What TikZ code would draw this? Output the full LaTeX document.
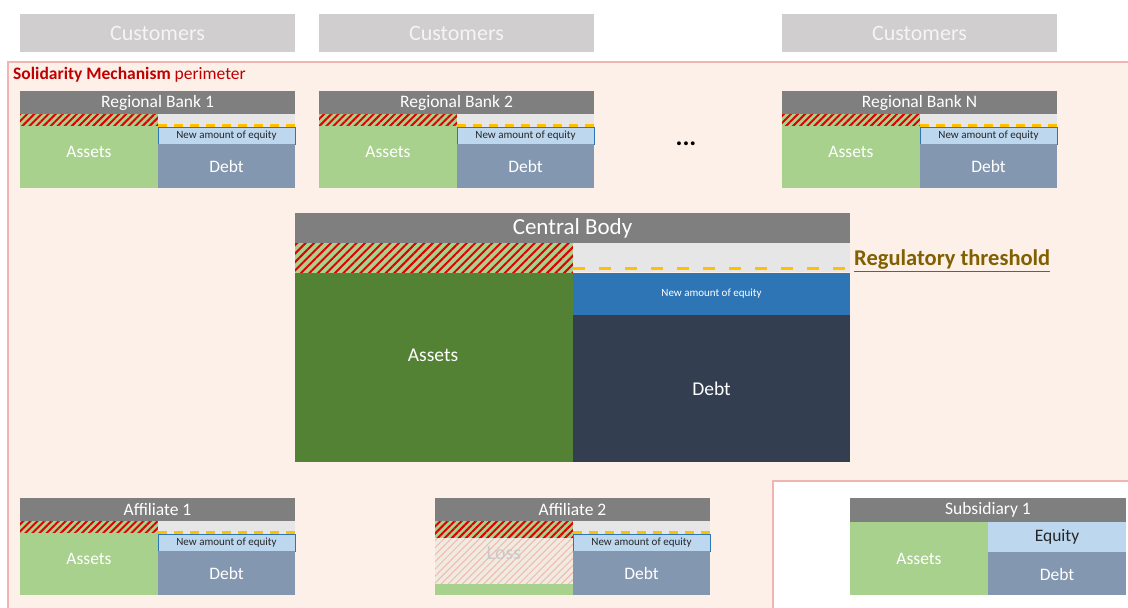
\documentclass[tikz,border=0pt]{standalone}
\usepackage{fontspec}
\setmainfont{Carlito}
\usetikzlibrary{patterns.meta}

\definecolor{custgray}{HTML}{D0CECE}
\definecolor{perimfill}{HTML}{FDF0E9}
\definecolor{perimline}{HTML}{F2B3B3}
\definecolor{hdrgray}{HTML}{7F7F7F}
\definecolor{lightgreen}{HTML}{A9D18E}
\definecolor{darkgreen}{HTML}{548235}
\definecolor{paleblue}{HTML}{BDD7EE}
\definecolor{midblue}{HTML}{2E75B6}
\definecolor{slate}{HTML}{8497B0}
\definecolor{navy}{HTML}{333F50}
\definecolor{bufgray}{HTML}{E7E6E6}
\definecolor{amber}{HTML}{FFC000}
\definecolor{hatchred}{HTML}{E00000}
\definecolor{threshgold}{HTML}{806000}
\definecolor{titlered}{HTML}{C00000}
\definecolor{lossbg}{HTML}{EFEBE0}
\definecolor{lossline}{HTML}{F4B8AE}
\definecolor{losstext}{HTML}{C9C9C9}

\tikzset{
  fs/.style={font=\fontsize{#1}{#1}\selectfont},
  label/.style={inner sep=0pt, outer sep=0pt, text=white},
  darklabel/.style={inner sep=0pt, outer sep=0pt, text=black!85},
  hatch/.style={fill=lightgreen, postaction={pattern={Lines[angle=45,distance=#1pt,line width=2pt]}, pattern color=hatchred}},
  threshold/.style={draw=amber, line width=3pt, dash pattern=#1},
  eqbox/.style={fill=paleblue, draw=midblue, line width=0.8pt},
}

% header bar and liability side of a small balance sheet
% #1 x, #2 y, #3 name, #4 title
\newcommand\bankframe[4]{%
  \begin{scope}[shift={(#1,#2)}]
    \fill[hdrgray] (0,0) rectangle (275,23);
    \node[label, fs=17.5] (#3-title) at (137.5,11.5) {#4};
    \fill[bufgray] (138,23) rectangle (275,36);
    \coordinate (#3-ta) at (138,34);
    \coordinate (#3-tb) at (275,34);
    \draw[threshold={on 9pt off 7pt}] (#3-ta) -- (#3-tb);
    \filldraw[eqbox] (138,36) rectangle (275,53);
    \node[darklabel, fs=11] (#3-eq) at (206.5,44.5) {New amount of equity};
    \fill[slate] (138,53) rectangle (275,97);
    \node[label, fs=17.5] (#3-debt) at (206.5,75) {Debt};
  \end{scope}}

% asset side: hatched loss strip above the remaining assets
% #1 x, #2 y, #3 name
\newcommand\bankassets[3]{%
  \begin{scope}[shift={(#1,#2)}]
    \fill[hatch=5] (0,23) rectangle (138,35);
    \fill[lightgreen] (0,35) rectangle (138,97);
    \node[label, fs=17.5] (#3-assets) at (69,61) {Assets};
  \end{scope}}

\begin{document}
\begin{tikzpicture}[x=1pt, y=-1pt]
  \useasboundingbox (0,0) rectangle (1128,608);

  % customers
  \foreach \cx/\cn in {20/c1, 319/c2, 782/c3} {
    \fill[custgray] (\cx,14) rectangle ++(275,38);
    \node[label, fs=22, text=white!96!black] (\cn) at (\cx+137.5,33) {Customers};
  }

  % perimeter of the solidarity mechanism
  \fill[perimfill] (8,62) rectangle (1128,608);
  \draw[perimline, line width=1.2pt] (8,608) -- (8,62) -- (1128,62);
  \node[inner sep=0pt, anchor=west, fs=17.5, text=titlered] (perim) at (13,75)
    {\textbf{Solidarity Mechanism} perimeter};

  % regional banks
  \bankassets{20}{91}{rb1}
  \bankframe{20}{91}{rb1}{Regional Bank 1}
  \bankassets{319}{91}{rb2}
  \bankframe{319}{91}{rb2}{Regional Bank 2}
  \bankassets{782}{91}{rbn}
  \bankframe{782}{91}{rbn}{Regional Bank N}
  \node[inner sep=0pt, fs=26] (dots) at (686,144) {\textbf{...}};

  % central body
  \fill[hdrgray] (295,213) rectangle (850,243);
  \node[label, fs=23] (cb-title) at (572.5,228) {Central Body};
  \fill[hatch=6] (295,243) rectangle (573,273);
  \fill[darkgreen] (295,273) rectangle (573,462);
  \node[label, fs=19.5] (cb-assets) at (433,355) {Assets};
  \fill[bufgray] (573,243) rectangle (850,272);
  \coordinate (cb-ta) at (573,268);
  \coordinate (cb-tb) at (850,268);
  \draw[threshold={on 12pt off 14pt}] (cb-ta) -- (cb-tb);
  \fill[midblue] (573,273) rectangle (850,315);
  \node[label, fs=11] (cb-eq) at (711.5,294) {New amount of equity};
  \fill[navy] (573,315) rectangle (850,462);
  \node[label, fs=19.5] (cb-debt) at (711.5,389) {Debt};
  \node[inner sep=0pt, anchor=west, fs=22.5, text=threshgold] (reg) at (854,261)
    {\textbf{\underline{Regulatory threshold}}};

  % affiliate 1
  \bankassets{20}{498}{af1}
  \bankframe{20}{498}{af1}{Affiliate 1}

  % affiliate 2: part of the assets already lost
  \begin{scope}[shift={(435,498)}]
    \fill[hatch=5] (0,23) rectangle (138,40);
    \fill[lossbg, postaction={pattern={Lines[angle=45,distance=5pt,line width=1pt]}, pattern color=lossline}]
      (0,40) rectangle (138,86);
    \node[label, fs=20, text=losstext] (af2-loss) at (69,55) {Loss};
    \fill[lightgreen] (0,86) rectangle (138,97);
  \end{scope}
  \bankframe{435}{498}{af2}{Affiliate 2}

  % subsidiary, outside the perimeter
  \fill[white] (773,481) rectangle (1128,608);
  \draw[perimline, line width=1.5pt] (773,608) -- (773,481) -- (1128,481);
  \fill[hdrgray] (850,498) rectangle (1126,522);
  \node[label, fs=17.5] (sub-title) at (988,510) {Subsidiary 1};
  \fill[lightgreen] (850,522) rectangle (988,595);
  \node[label, fs=17.5] (sub-assets) at (919,559) {Assets};
  \fill[paleblue] (988,522) rectangle (1126,552);
  \node[darklabel, fs=17.5] (sub-eq) at (1057,537) {Equity};
  \fill[slate] (988,552) rectangle (1126,595);
  \node[label, fs=17.5] (sub-debt) at (1057,574) {Debt};
\end{tikzpicture}
\end{document}
